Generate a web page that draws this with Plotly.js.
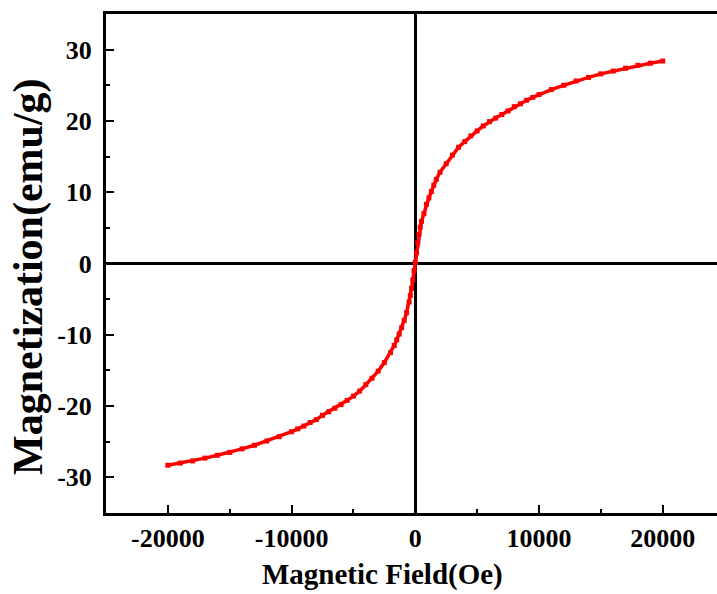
<!DOCTYPE html>
<html>
<head>
<meta charset="utf-8">
<script src="https://cdn.plot.ly/plotly-3.0.1.min.js"></script>
<style>html,body{margin:0;padding:0;background:#fff;}#chart{width:717px;height:594px;}</style>
</head>
<body>
<div id="chart"></div>
<script>
// Magnetic field (Oe) and magnetization (emu/g)
const fieldNeg = [-20000,-19000,-18000,-17000,-16000,-15000,-14000,-13000,-12000,-11000,-10000,-9500,-9000,-8500,-8000,-7500,-7000,-6500,-6000,-5500,-5000,-4500,-4000,-3500,-3000,-2500,-2000,-1700,-1500,-1300,-1100,-900,-700,-500,-400,-300,-200,-100];
const magNeg   = [-28.3,-28.0,-27.7,-27.3,-26.9,-26.5,-26.0,-25.5,-24.9,-24.3,-23.6,-23.2,-22.8,-22.3,-21.9,-21.3,-20.8,-20.3,-19.8,-19.2,-18.6,-17.9,-17.0,-16.1,-15.1,-13.9,-12.5,-11.5,-10.7,-9.9,-9.0,-8.0,-6.9,-5.4,-4.5,-3.5,-2.3,-1.0];
const fieldPos = [0,100,200,300,400,500,700,900,1100,1300,1500,1700,2000,2500,3000,3500,4000,4500,5000,5500,6000,6500,7000,7500,8000,8500,9000,9500,10000,11000,12000,13000,14000,15000,16000,17000,18000,19000,20000];
const magPos   = [0.2,1.5,2.9,4.1,5.1,5.9,7.0,8.3,9.2,10.1,11.0,11.8,12.8,14.0,15.2,16.3,17.1,17.9,18.6,19.3,19.9,20.4,20.9,21.4,22.0,22.4,22.9,23.3,23.7,24.4,25.0,25.6,26.1,26.6,27.0,27.4,27.8,28.1,28.4];

const xTickVals = [-20000, -10000, 0, 10000, 20000];
const xTickText = ['-20000', '-10000', '0', '10000', '20000'];
const yTickVals = [-30, -20, -10, 0, 10, 20, 30];
const yTickText = ['-30', '-20', '-10', '0', '10', '20', '30'];

const xTitle = 'Magnetic Field(Oe)';
const yTitle = 'Magnetization(emu/g)';

const field = fieldNeg.concat(fieldPos);
const mag = magNeg.concat(magPos);

const font = 'Liberation Serif, Times New Roman, serif';

const trace = {
  x: field, y: mag, type: 'scatter', mode: 'lines+markers',
  line: {color: '#ff0000', width: 3.5},
  marker: {color: '#ff0000', symbol: 'square', size: 5},
  hoverinfo: 'x+y'
};

const layout = {
  width: 717, height: 594,
  margin: {l: 106, r: 0, t: 14, b: 81},
  paper_bgcolor: '#ffffff', plot_bgcolor: '#ffffff',
  showlegend: false,
  font: {family: font, color: '#000', size: 24},
  xaxis: {
    range: [-25000, 24390], autorange: false,
    showgrid: false, zeroline: true, zerolinecolor: '#000', zerolinewidth: 2.5,
    showline: true, linecolor: '#000', linewidth: 3, mirror: true,
    ticks: 'inside', ticklen: 8, tickwidth: 2, tickcolor: '#000',
    tickmode: 'array', tickvals: xTickVals, ticktext: xTickText,
    minor: {ticks: 'inside', ticklen: 4, tickwidth: 2, tickcolor: '#000', dtick: 5000, tick0: 0, showgrid: false},
    tickfont: {family: font, size: 26, color: '#000', weight: 'bold'},
    ticklabelstandoff: 0
  },
  yaxis: {
    range: [-35, 35], autorange: false,
    showgrid: false, zeroline: true, zerolinecolor: '#000', zerolinewidth: 2.5,
    showline: true, linecolor: '#000', linewidth: 3, mirror: false,
    ticks: 'inside', ticklen: 8, tickwidth: 2, tickcolor: '#000',
    tickmode: 'array', tickvals: yTickVals, ticktext: yTickText,
    minor: {ticks: 'inside', ticklen: 4, tickwidth: 2, tickcolor: '#000', dtick: 5, tick0: 0, showgrid: false},
    tickfont: {family: font, size: 26, color: '#000', weight: 'bold'},
    ticklabelstandoff: 6
  },
  annotations: [
    {text: '<b>' + xTitle + '</b>', xref: 'paper', yref: 'paper', x: 0.4525, y: -0.124,
     xanchor: 'center', yanchor: 'middle', showarrow: false,
     font: {family: font, size: 29, color: '#000'}},
    {text: '<b>' + yTitle + '</b>', xref: 'paper', yref: 'paper', x: -0.1260, y: 0.473,
     xanchor: 'center', yanchor: 'middle', showarrow: false, textangle: -90,
     font: {family: font, size: 42, color: '#000'}}
  ]
};

Plotly.newPlot('chart', [trace], layout, {displayModeBar: false, staticPlot: true});
</script>
</body>
</html>
